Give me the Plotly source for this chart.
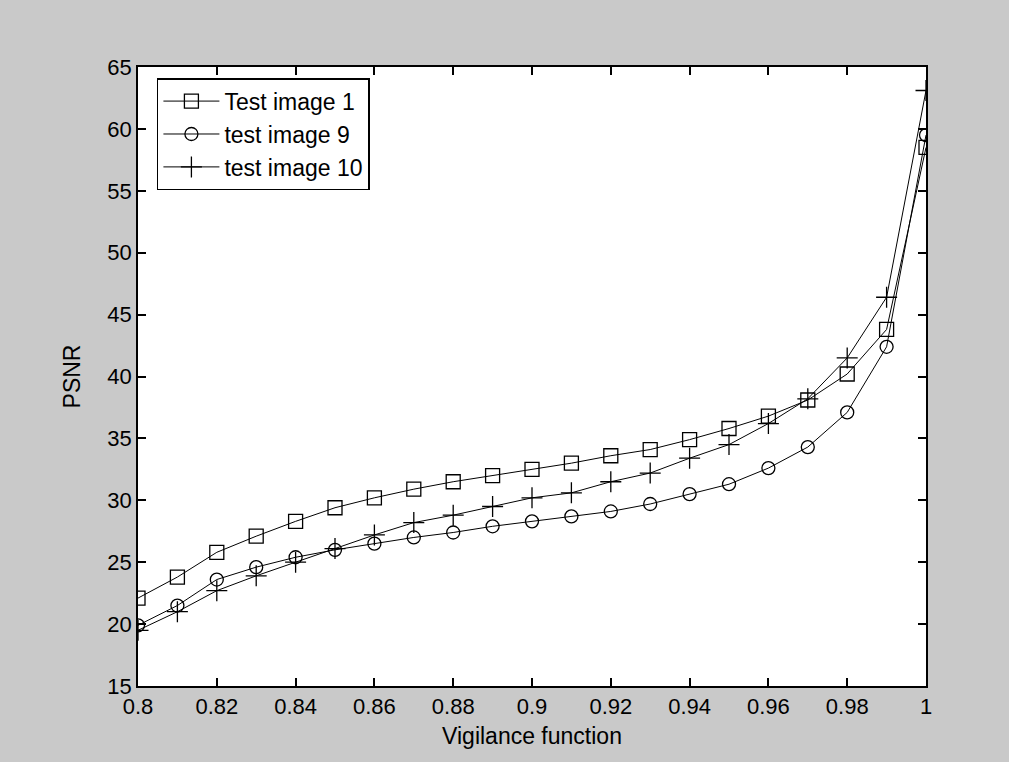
import plotly.graph_objects as go

x_vals = [0.80, 0.81, 0.82, 0.83, 0.84, 0.85, 0.86, 0.87, 0.88, 0.89, 0.90,
          0.91, 0.92, 0.93, 0.94, 0.95, 0.96, 0.97, 0.98, 0.99, 1.00]

test_image_1 = [22.1, 23.8, 25.8, 27.1, 28.3, 29.4, 30.2, 30.9, 31.5, 32.0, 32.5,
                33.0, 33.6, 34.1, 34.9, 35.8, 36.8, 38.1, 40.2, 43.8, 58.5]
test_image_9 = [19.9, 21.5, 23.6, 24.6, 25.4, 26.0, 26.5, 27.0, 27.4, 27.9, 28.3,
                28.7, 29.1, 29.7, 30.5, 31.3, 32.6, 34.3, 37.1, 42.4, 59.5]
test_image_10 = [19.5, 21.0, 22.7, 23.9, 25.0, 26.1, 27.2, 28.2, 28.8, 29.5, 30.2,
                 30.6, 31.5, 32.2, 33.4, 34.5, 36.2, 38.2, 41.5, 46.4, 63.1]

series_names = ["Test image 1", "test image 9", "test image 10"]

x_tickvals = [0.80, 0.82, 0.84, 0.86, 0.88, 0.90, 0.92, 0.94, 0.96, 0.98, 1.00]
x_ticktext = ["0.8", "0.82", "0.84", "0.86", "0.88", "0.9", "0.92", "0.94", "0.96", "0.98", "1"]
y_tickvals = [15, 20, 25, 30, 35, 40, 45, 50, 55, 60, 65]

font_family = "Liberation Sans, Arial, sans-serif"

fig = go.Figure()
styles = [
    dict(symbol="square-open", size=14),
    dict(symbol="circle-open", size=13),
    dict(symbol="cross-thin-open", size=15),
]
for name, ys, st in zip(series_names, [test_image_1, test_image_9, test_image_10], styles):
    fig.add_trace(go.Scatter(
        x=x_vals, y=ys, name=name, mode="lines+markers",
        line=dict(color="black", width=1),
        marker=dict(symbol=st["symbol"], size=st["size"], color="black",
                    line=dict(color="black", width=1.3)),
    ))

axis_common = dict(
    showgrid=False, zeroline=False, showline=True, linecolor="black", linewidth=1.5,
    mirror="ticks", ticks="inside", ticklen=8, tickcolor="black", tickwidth=1.5,
    tickfont=dict(family=font_family, size=22, color="black"),
)

fig.update_layout(
    width=1009, height=762,
    margin=dict(l=138, r=83, t=67, b=76),
    paper_bgcolor="#c9c9c9",
    plot_bgcolor="white",
    font=dict(family=font_family, color="black"),
    xaxis=dict(range=[0.8, 1.0], tickvals=x_tickvals, ticktext=x_ticktext,
               title=dict(text="Vigilance function", font=dict(size=23), standoff=10),
               **axis_common),
    yaxis=dict(range=[15, 65], tickvals=y_tickvals,
               title=dict(text="PSNR", font=dict(size=23), standoff=20),
               **axis_common),
    legend=dict(x=0.024, y=0.982, xanchor="left", yanchor="top",
                bgcolor="white", bordercolor="black", borderwidth=1.5,
                font=dict(family=font_family, size=23, color="black"),
                tracegroupgap=0, itemwidth=56),
    showlegend=True,
)

fig.write_html("out.html")
